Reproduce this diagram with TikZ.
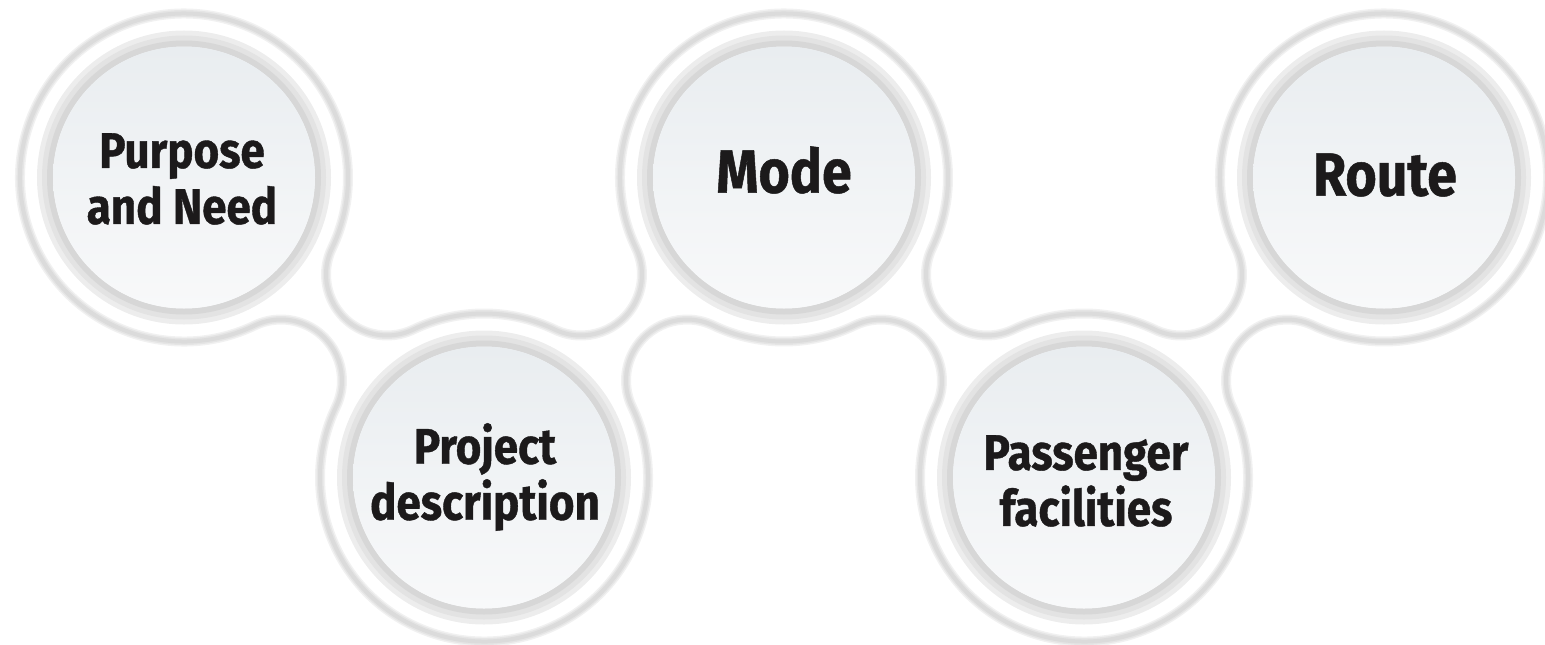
\documentclass[tikz,border=0pt]{standalone}
\usepackage{fontspec}
\usetikzlibrary{calc}
\newfontfamily\lblfont[FakeStretch=0.88, BoldFeatures={FakeBold=0.8}]{Fira Sans}
\definecolor{faceT}{RGB}{233,237,240}
\definecolor{faceB}{RGB}{248,249,250}
\definecolor{ink}{RGB}{28,26,27}
\newcommand\chainpath[2]{%
 ($(C1)+(64.47:#1)$) arc[start angle=64.47,end angle=385.53,radius=#1]
 -- ($(F12a)+(205.53:#2)$) arc[start angle=205.53,end angle=64.47,radius=#2]
 -- ($(C2)+(244.47:#1)$) arc[start angle=244.47,end angle=295.53,radius=#1]
 -- ($(F23a)+(115.53:#2)$) arc[start angle=115.53,end angle=-25.53,radius=#2]
 -- ($(C3)+(154.47:#1)$) arc[start angle=154.47,end angle=385.53,radius=#1]
 -- ($(F34a)+(205.53:#2)$) arc[start angle=205.53,end angle=64.47,radius=#2]
 -- ($(C4)+(244.47:#1)$) arc[start angle=244.47,end angle=295.53,radius=#1]
 -- ($(F45a)+(115.53:#2)$) arc[start angle=115.53,end angle=-25.53,radius=#2]
 -- ($(C5)+(154.47:#1)$) arc[start angle=154.47,end angle=475.53,radius=#1]
 -- ($(F45b)+(295.53:#2)$) arc[start angle=295.53,end angle=154.47,radius=#2]
 -- ($(C4)+(-25.53:#1)$) arc[start angle=-25.53,end angle=205.53,radius=#1]
 -- ($(F34b)+(25.53:#2)$) arc[start angle=25.53,end angle=-115.53,radius=#2]
 -- ($(C3)+(64.47:#1)$) arc[start angle=64.47,end angle=115.53,radius=#1]
 -- ($(F23b)+(295.53:#2)$) arc[start angle=295.53,end angle=154.47,radius=#2]
 -- ($(C2)+(-25.53:#1)$) arc[start angle=-25.53,end angle=205.53,radius=#1]
 -- ($(F12b)+(25.53:#2)$) arc[start angle=25.53,end angle=-115.53,radius=#2]
 -- cycle}
\tikzset{
  rim/.style={line join=round},
  lbl/.style={font=\lblfont\bfseries\fontsize{50}{56}\selectfont, align=center, text=ink, inner sep=0pt},
  biglbl/.style={font=\lblfont\bfseries\fontsize{61}{66}\selectfont, text=ink, inner sep=0pt},
}
\begin{document}
\begin{tikzpicture}[x=1pt,y=-1pt]
\useasboundingbox (0,0) rectangle (1545,645);
% circle centres
\coordinate (C1) at (184,177.5);
\coordinate (C2) at (484,477.5);
\coordinate (C3) at (784,177.5);
\coordinate (C4) at (1084,477.5);
\coordinate (C5) at (1384,177.5);
% fillet centres
\coordinate (F12a) at ($(C1)+(25.53:225)$);
\coordinate (F12b) at ($(C1)+(64.47:225)$);
\coordinate (F23a) at ($(C2)+(-64.47:225)$);
\coordinate (F23b) at ($(C2)+(-25.53:225)$);
\coordinate (F34a) at ($(C3)+(25.53:225)$);
\coordinate (F34b) at ($(C3)+(64.47:225)$);
\coordinate (F45a) at ($(C4)+(-64.47:225)$);
\coordinate (F45b) at ($(C4)+(-25.53:225)$);
% outer soft outline of the chain
\draw[rim, line width=10, gray!11] \chainpath{164}{61};
\draw[rim, line width=7, gray!20] \chainpath{164}{61};
\draw[rim, line width=4, gray!28] \chainpath{164}{61};
% inner bevel rings and faces
\foreach \c in {C1,C2,C3,C4,C5}{
  \draw[line width=16, gray!14] (\c) circle[radius=139];
  \draw[line width=11, gray!22] (\c) circle[radius=136.5];
  \draw[line width=6, gray!31] (\c) circle[radius=134];
  \shade[top color=faceT, bottom color=faceB] (\c) circle[radius=131];
}
% labels
\node[lbl] (purpose) at (182,179) {Purpose\\and Need};
\node[lbl] (project) at (485,477) {Project\\description};
\node[biglbl] (mode) at (784,170) {Mode};
\node[lbl] (passenger) at (1086,481) {Passenger\\facilities};
\node[biglbl] (route) at (1385,175) {Route};
\end{tikzpicture}
\end{document}
